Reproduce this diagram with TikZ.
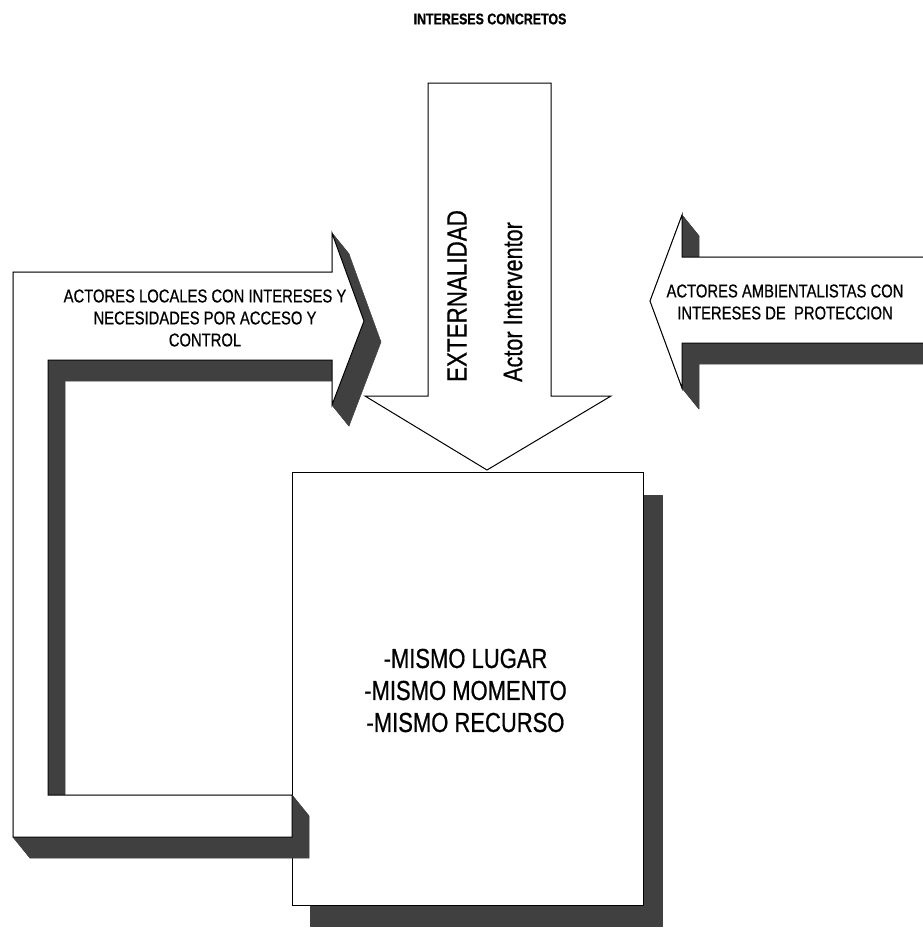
\documentclass[tikz,border=0pt]{standalone}
\usepackage{fontspec}
\setmainfont{Liberation Sans}[FakeStretch=0.8,FakeBold=0.6]
\usetikzlibrary{calc,positioning}

\begin{document}
\begin{tikzpicture}[x=1pt,y=-1pt,
    face/.style={draw=black,fill=white,line width=1pt,line join=miter},
    dark/.style={fill=black!75,draw=black!75,line width=0.5pt,line join=round},
    lbl/.style={align=center,inner sep=0pt,font=\fontsize{18.5}{22}\selectfont}]
\useasboundingbox (0,0) rectangle (923,929);
\clip (0,0) rectangle (923,929);

% arrow coming down from the top
\foreach \x/\y [count=\i] in {428/83, 551/83, 551/396, 611/396, 487/470, 365/396, 428/396}
  \coordinate (t\i) at (\x,\y);
\draw[face] (t1) -- (t2) -- (t3) -- (t4) -- (t5) -- (t6) -- (t7) -- cycle;

% the box and its shadow
\coordinate (bnw) at (292,472);
\coordinate (bse) at (643,905);
\fill[dark] ($(bnw)+(18,23)$) rectangle ($(bse)+(19,21)$);
\draw[face] (bnw) rectangle (bse);

% bent arrow on the left
\foreach \x/\y [count=\i] in {13/272, 332/272, 332/233, 364/321, 332/405, 332/360,
    48/360, 48/795, 292/795, 292/837, 13/837}
  \coordinate (l\i) at (\x,\y);
\foreach \i in {1,...,11}{
  \pgfmathtruncatemacro\j{mod(\i,11)+1}
  \fill[dark] (l\i) -- (l\j) -- ($(l\j)+(17,21)$) -- ($(l\i)+(17,21)$) -- cycle;
}
\draw[face] (l1) -- (l2) -- (l3) -- (l4) -- (l5) -- (l6) -- (l7) -- (l8) -- (l9) -- (l10) -- (l11) -- cycle;

% arrow on the right
\foreach \x/\y [count=\i] in {940/257, 682/257, 682/215, 650/301, 682/388, 682/343, 940/343}
  \coordinate (r\i) at (\x,\y);
\foreach \i in {1,...,7}{
  \pgfmathtruncatemacro\j{mod(\i,7)+1}
  \fill[dark] (r\i) -- (r\j) -- ($(r\j)+(17,21)$) -- ($(r\i)+(17,21)$) -- cycle;
}
\draw[face] (r1) -- (r2) -- (r3) -- (r4) -- (r5) -- (r6) -- (r7) -- cycle;

% texts
\node[font=\bfseries\fontsize{15.5}{18}\selectfont] (titulo) at (490,19) {INTERESES CONCRETOS};
\node[rotate=90,inner sep=0pt,font=\fontsize{28}{30}\selectfont] (externo) at (457,296) {EXTERNALIDAD};
\node[rotate=90,inner sep=0pt,font=\fontsize{27}{30}\selectfont] (actor) at (513,302) {Actor Interventor};
\node[lbl] (locales) at (205,318) {ACTORES LOCALES CON INTERESES Y\\NECESIDADES POR ACCESO Y\\CONTROL};
\node[lbl] (ambiental) at (785,302) {ACTORES AMBIENTALISTAS CON\\INTERESES DE\ \ PROTECCION};
\node[align=center,inner sep=0pt,font=\fontsize{27.5}{32}\selectfont] (lugar) at ($(bnw)!0.5!(bse)+(-2,2)$)
  {-MISMO LUGAR\\-MISMO MOMENTO\\-MISMO RECURSO};

\end{tikzpicture}
\end{document}
